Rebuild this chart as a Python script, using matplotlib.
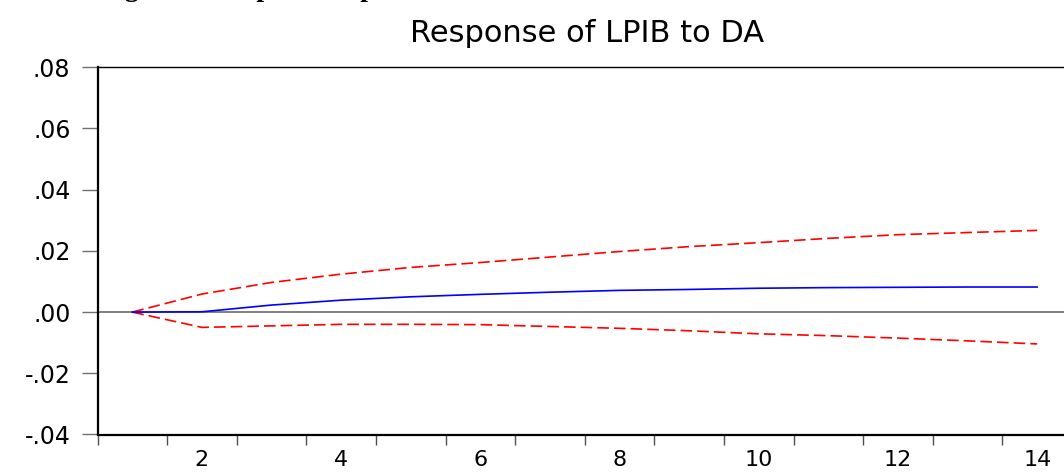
import matplotlib.pyplot as plt
import numpy as np

# Данные: отклик LPIB на импульс DA (периоды 1..14)
periods = list(range(1, 15))
response = [0.0, 0.0001, 0.0023, 0.0039, 0.0050, 0.0058, 0.0065,
            0.0071, 0.0074, 0.0078, 0.0080, 0.0081, 0.0082, 0.0082]
upper = [0.0, 0.0059, 0.0097, 0.0124, 0.0146, 0.0162, 0.0180,
         0.0198, 0.0214, 0.0227, 0.0241, 0.0253, 0.0260, 0.0267]
lower = [0.0, -0.0050, -0.0045, -0.0040, -0.0040, -0.0041, -0.0047,
         -0.0053, -0.0061, -0.0071, -0.0077, -0.0085, -0.0094, -0.0104]
yticks = [-0.04, -0.02, 0.0, 0.02, 0.04, 0.06, 0.08]
ytick_labels = ['-.04', '-.02', '.00', '.02', '.04', '.06', '.08']
xtick_labels = ['2', '4', '6', '8', '10', '12', '14']
title = 'Response of LPIB to DA'

W, H = 1064, 473
plt.rcParams['font.family'] = ['DejaVu Sans']
fig = plt.figure(figsize=(W / 100, H / 100), dpi=100)

# оси выходят за правый край рисунка, как на исходнике
left, right, top, bottom = 97.5, 1072, 67.3, 434.5
ax = fig.add_axes([left / W, 1 - bottom / H, (right - left) / W, (bottom - top) / H])

ax.axhline(0, color='#808080', lw=1.4, zorder=1)
ax.plot(periods, response, color='blue', lw=1.2, zorder=3)
ax.plot(periods, upper, color='red', lw=1.2, dashes=(7, 3), zorder=2)
ax.plot(periods, lower, color='red', lw=1.2, dashes=(7, 3), zorder=2)

ax.set_xlim(0.5, 14.5)
ax.set_ylim(-0.04, 0.08)

ax.set_yticks(yticks)
ax.set_yticklabels(ytick_labels)
ax.tick_params(axis='y', direction='out', length=11.5, width=1, color='#707070',
               labelsize=17, pad=8)

# риски x между периодами, подписи по центру чётных периодов
ax.set_xticks(np.arange(0.5, 15.0, 1.0))
ax.set_xticklabels([])
ax.set_xticks([2, 4, 6, 8, 10, 12, 14], minor=True)
ax.set_xticklabels(xtick_labels, minor=True)
ax.tick_params(axis='x', which='major', direction='out', length=7, width=1, color='#505050')
ax.tick_params(axis='x', which='minor', length=0, labelsize=16, pad=11)

for s in ['left', 'bottom']:
    ax.spines[s].set_linewidth(1.6)
ax.spines['top'].set_linewidth(1.0)
ax.spines['right'].set_linewidth(1.0)

fig.text(587 / W, 1 - 34 / H, title, ha='center', va='center', fontsize=22)

# обрезанная подпись сверху (видны только нижние выносные элементы)
fig.text(100 / W, 1 + 3.5 / H, 'Figure 6 : Impulse response of LPIB to DA',
         ha='left', va='baseline', fontsize=20, fontweight='bold',
         family=['Liberation Serif', 'DejaVu Serif'])

fig.savefig('out.png', dpi=100)
